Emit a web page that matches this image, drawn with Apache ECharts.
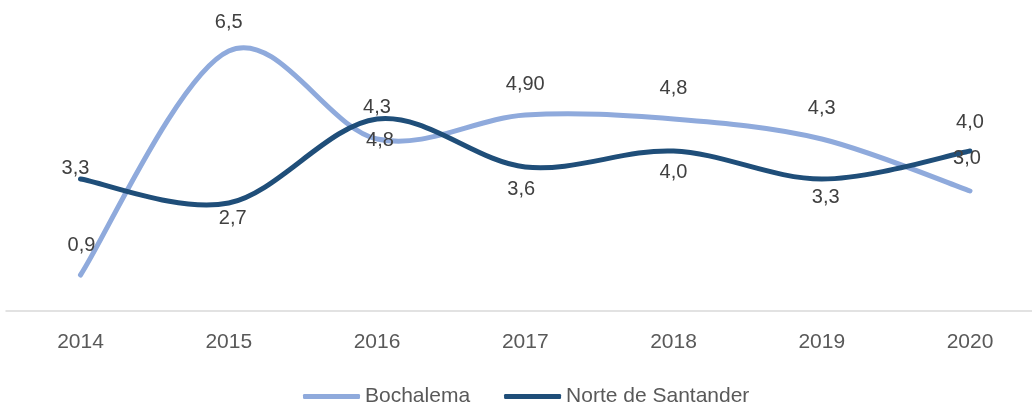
<!DOCTYPE html>
<html lang="es">
<head>
    <meta charset="UTF-8">
    <title>Bochalema vs Norte de Santander</title>
    <script src="https://cdn.jsdelivr.net/npm/echarts@6/dist/echarts.min.js"></script>
    <style>
        html, body { margin: 0; padding: 0; background: #fff; }
        #chart { width: 1032px; height: 405px; }
    </style>
</head>
<body>
    <div id="chart"></div>
    <script>
        // data
        var years = ['2014', '2015', '2016', '2017', '2018', '2019', '2020'];
        var bochalema = [0.9, 6.5, 4.3, 4.9, 4.8, 4.3, 3.0];
        var norte = [3.3, 2.7, 4.8, 3.6, 4.0, 3.3, 4.0];
        var bochalemaText = ['0,9', '6,5', '4,3', '4,90', '4,8', '4,3', '3,0'];
        var norteText = ['3,3', '2,7', '4,8', '3,6', '4,0', '3,3', '4,0'];

        // label offsets from each point (px), hand placed like in the original
        var bochalemaOffsets = [[1, -30], [0, -29], [0, -32], [0, -31], [0, -31], [0, -31], [-3, -33]];
        var norteOffsets = [[-5, -11], [4, 15], [3, 21], [-4, 22], [0, 21], [4, 18], [0, -29]];

        var colors = { bochalema: '#8faadc', norte: '#1f4e79' };

        function points(values, texts, offsets) {
            return values.map(function (v, i) {
                return {
                    value: v,
                    label: { formatter: texts[i], offset: offsets[i] }
                };
            });
        }

        // Excel style smoothed line (Catmull-Rom through the points)
        function smoothLine(values, color) {
            return function (params, api) {
                if (params.dataIndex !== 0) return null;
                var p = values.map(function (v, i) { return api.coord([i, v]); });
                var d = 'M' + p[0][0] + ' ' + p[0][1];
                for (var i = 0; i < p.length - 1; i++) {
                    var p0 = p[i - 1] || p[i];
                    var p1 = p[i];
                    var p2 = p[i + 1];
                    var p3 = p[i + 2] || p[i + 1];
                    var c1 = [p1[0] + (p2[0] - p0[0]) / 6, p1[1] + (p2[1] - p0[1]) / 6];
                    var c2 = [p2[0] - (p3[0] - p1[0]) / 6, p2[1] - (p3[1] - p1[1]) / 6];
                    d += ' C' + c1.join(' ') + ' ' + c2.join(' ') + ' ' + p2.join(' ');
                }
                return {
                    type: 'path',
                    shape: { pathData: d },
                    style: { fill: 'none', stroke: color, lineWidth: 5, lineCap: 'round', lineJoin: 'round' }
                };
            };
        }

        var labelStyle = {
            show: true,
            position: 'inside',
            color: '#404040',
            fontFamily: 'Liberation Sans',
            fontSize: 20
        };

        var chart = echarts.init(document.getElementById('chart'));

        chart.setOption({
            animation: false,
            grid: [
                { left: 80.5, top: 31, width: 889.5, height: 280 },
                { left: 6, right: 0, top: 31, height: 280 }
            ],
            legend: {
                left: 303,
                top: 386,
                padding: 0,
                icon: 'roundRect',
                itemWidth: 57,
                itemHeight: 5,
                itemGap: 34,
                textStyle: { color: '#595959', fontFamily: 'Liberation Sans', fontSize: 21 },
                data: [
                    { name: 'Bochalema', itemStyle: { color: colors.bochalema } },
                    { name: 'Norte de Santander', itemStyle: { color: colors.norte } }
                ]
            },
            xAxis: [
                {
                    type: 'category',
                    data: years,
                    boundaryGap: false,
                    axisLine: { show: false },
                    axisTick: { show: false },
                    axisLabel: { color: '#595959', fontFamily: 'Liberation Sans', fontSize: 21, margin: 21 }
                },
                {
                    // only the long baseline of the plot area
                    gridIndex: 1,
                    type: 'value',
                    min: 0,
                    max: 1,
                    axisLine: { show: true, onZero: false, lineStyle: { color: '#d9d9d9', width: 1.5 } },
                    axisTick: { show: false },
                    axisLabel: { show: false },
                    splitLine: { show: false }
                }
            ],
            yAxis: [
                { type: 'value', min: 0, max: 7, show: false, splitLine: { show: false } },
                { gridIndex: 1, type: 'value', min: 0, max: 1, show: false }
            ],
            series: [
                {
                    name: 'Bochalema',
                    type: 'custom',
                    clip: false,
                    silent: true,
                    data: bochalema.map(function (v, i) { return [i, v]; }),
                    encode: { x: 0, y: 1 },
                    renderItem: smoothLine(bochalema, colors.bochalema)
                },
                {
                    name: 'Norte de Santander',
                    type: 'custom',
                    clip: false,
                    silent: true,
                    data: norte.map(function (v, i) { return [i, v]; }),
                    encode: { x: 0, y: 1 },
                    renderItem: smoothLine(norte, colors.norte)
                },
                {
                    name: 'Bochalema',
                    type: 'line',
                    symbol: 'circle',
                    symbolSize: 0.1,
                    data: points(bochalema, bochalemaText, bochalemaOffsets),
                    lineStyle: { width: 0, opacity: 0 },
                    itemStyle: { color: colors.bochalema },
                    label: labelStyle
                },
                {
                    name: 'Norte de Santander',
                    type: 'line',
                    symbol: 'circle',
                    symbolSize: 0.1,
                    data: points(norte, norteText, norteOffsets),
                    lineStyle: { width: 0, opacity: 0 },
                    itemStyle: { color: colors.norte },
                    label: labelStyle
                }
            ]
        });
    </script>
</body>
</html>
